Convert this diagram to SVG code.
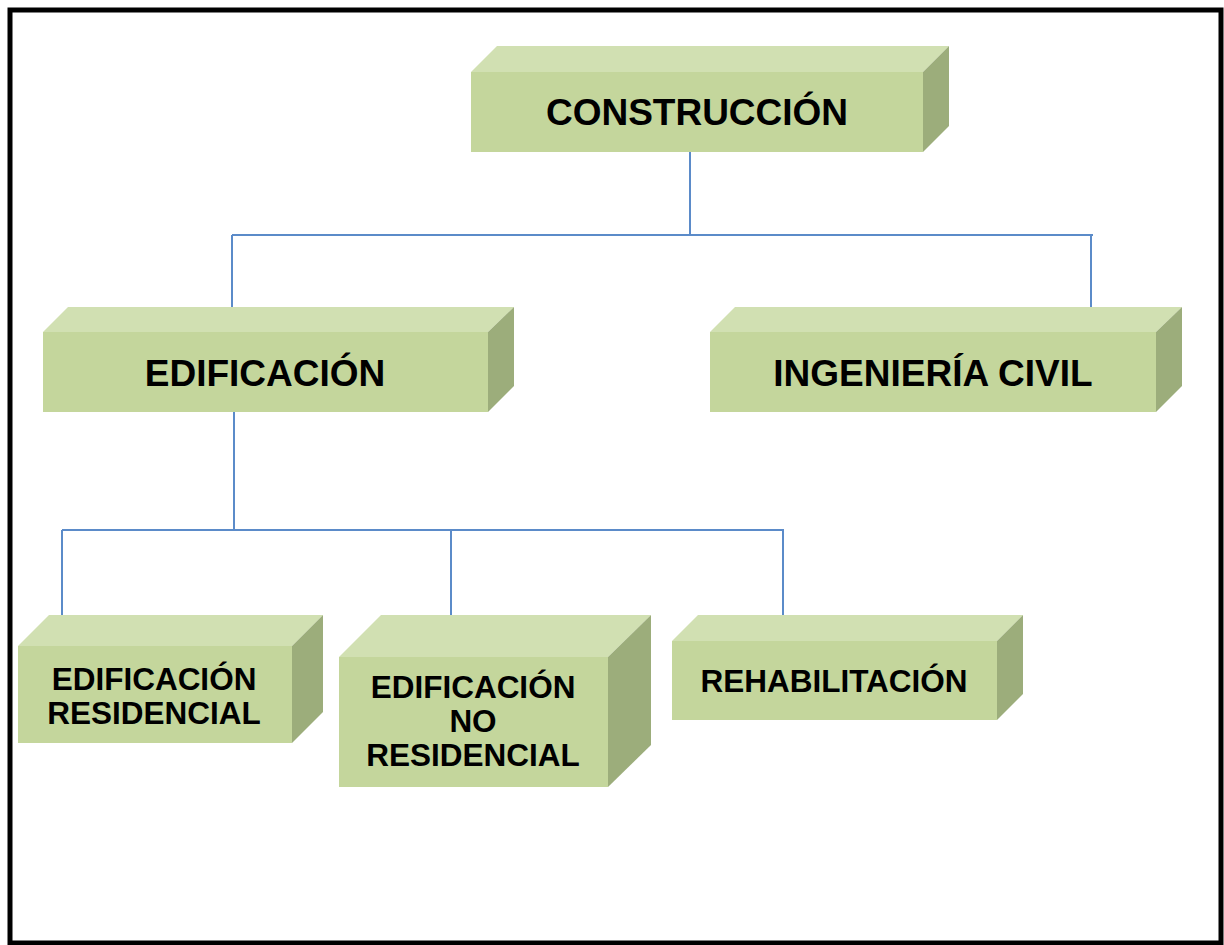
<svg xmlns="http://www.w3.org/2000/svg" width="1224" height="945" viewBox="0 0 1224 945">
<style>
.front{fill:#c4d69c}
.top{fill:#d1e0b2}
.side{fill:#9cad7b}
.lbl{font-family:"Liberation Sans",Arial,sans-serif;font-weight:bold;fill:#000;text-anchor:middle}
.big{font-size:37px}
.small{font-size:31.5px}
.conn{stroke:#5b8bc9;stroke-width:2;fill:none}
</style>
<rect x="0" y="0" width="1224" height="945" fill="#fff"/>
<path d="M10,945 V10 H1221 V943 H10" fill="none" stroke="#000" stroke-width="5"/>
<g id="connectors">
<path class="conn" d="M690,152 V235 M232,235 H1093 M232,235 V307 M1091,235 V307"/>
<path class="conn" d="M234,412 V530 M62,530 H784 M62,530 V615 M451,530 V615 M783,530 V615"/>
</g>
<g id="construccion">
<polygon class="top" points="471,72 497,46 949,46 923,72"/>
<polygon class="side" points="923,72 949,46 949,126 923,152"/>
<rect class="front" x="471" y="72" width="452" height="80"/>
<text class="lbl big" x="697" y="125">CONSTRUCCIÓN</text>
</g>
<g id="edificacion">
<polygon class="top" points="43,332 68,307 514,307 488,332"/>
<polygon class="side" points="488,332 514,307 514,386 488,412"/>
<rect class="front" x="43" y="332" width="445" height="80"/>
<text class="lbl big" x="265" y="386">EDIFICACIÓN</text>
</g>
<g id="ingenieria">
<polygon class="top" points="710,332 735,307 1182,307 1156,332"/>
<polygon class="side" points="1156,332 1182,307 1182,386 1156,412"/>
<rect class="front" x="710" y="332" width="446" height="80"/>
<text class="lbl big" x="933" y="386">INGENIERÍA CIVIL</text>
</g>
<g id="residencial">
<polygon class="top" points="18,646 49,615 323,615 292,646"/>
<polygon class="side" points="292,646 323,615 323,712 292,743"/>
<rect class="front" x="18" y="646" width="274" height="97"/>
<text class="lbl small" x="154" y="690">EDIFICACIÓN</text>
<text class="lbl small" x="154" y="724">RESIDENCIAL</text>
</g>
<g id="noresidencial">
<polygon class="top" points="339,657 381,615 651,615 608,657"/>
<polygon class="side" points="608,657 651,615 651,745 608,787"/>
<rect class="front" x="339" y="657" width="269" height="130"/>
<text class="lbl small" x="473" y="698">EDIFICACIÓN</text>
<text class="lbl small" x="473" y="732">NO</text>
<text class="lbl small" x="473" y="766">RESIDENCIAL</text>
</g>
<g id="rehabilitacion">
<polygon class="top" points="672,641 698,615 1023,615 997,641"/>
<polygon class="side" points="997,641 1023,615 1023,694 997,720"/>
<rect class="front" x="672" y="641" width="325" height="79"/>
<text class="lbl small" x="834" y="692">REHABILITACIÓN</text>
</g>
</svg>
